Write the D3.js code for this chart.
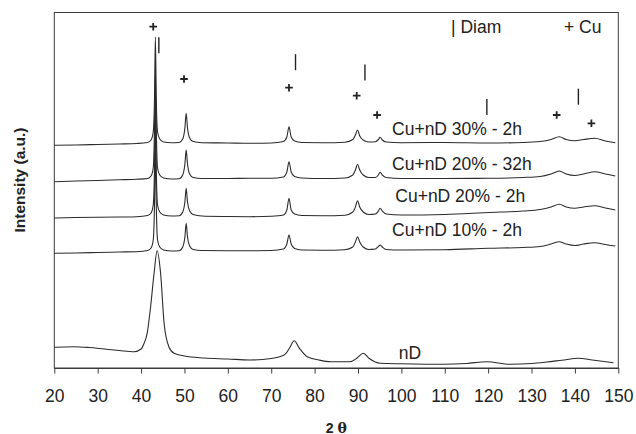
<!DOCTYPE html>
<html>
<head>
<meta charset="utf-8">
<script src="https://cdn.jsdelivr.net/npm/d3@7"></script>
<style>
  body { margin: 0; background: #fff; }
  svg { display: block; font-family: "Liberation Sans", Arial, sans-serif; }
</style>
</head>
<body>
<svg id="xrd" width="636" height="434"></svg>
<script>
// diffraction patterns, [2 theta, intensity a.u.]
var cu30 = [[20,222.7],[25,223],[30,223.5],[35,224],[39,224.5],[41.5,225.5],[42.3,228],[42.8,236],[43.1,270],[43.3,331],[43.5,270],[43.8,236],[44.3,229],[45.2,226],[47,225.2],[48.8,225.5],[49.6,229],[50.1,240],[50.4,254.7],[50.7,240],[51.2,230],[52,226.5],[54,225.3],[60,225],[65,224.7],[70,225],[72.8,226.5],[73.6,231],[74.1,241.3],[74.6,231],[75.4,227],[77,225.5],[82,225.3],[87,225.8],[88.8,228.5],[89.4,233],[89.9,238],[90.4,232],[91.2,228],[92.5,226],[94,226.3],[94.7,228.5],[95.1,230.7],[95.6,228],[96.5,226],[100,225.3],[110,225.5],[120,225],[128,225.5],[132,226.5],[134.5,228.5],[136.4,231.3],[138,228.5],[140,227.3],[142,228.5],[144.6,229.7],[147,227],[149.3,225.3]];
var cu20_32h = [[20,186.3],[25,187],[30,187.5],[35,188.2],[39,188.7],[41.5,189.5],[42.3,192],[42.8,200],[43.1,240],[43.3,298],[43.5,240],[43.8,200],[44.3,193],[45.2,190],[47,189],[48.8,189.3],[49.6,193],[50.1,204],[50.4,218],[50.7,204],[51.2,194],[52,190.5],[54,189.5],[60,189.5],[65,189.7],[70,189.7],[72.8,191],[73.6,196],[74.1,206.3],[74.6,196],[75.4,191.5],[77,190],[82,189.5],[87,190],[88.8,193],[89.4,198],[89.9,203.7],[90.4,198],[91.2,193],[92.5,190.5],[94,190.5],[94.7,193],[95.1,195.7],[95.6,193],[96.5,190.5],[100,189.5],[110,189.5],[120,189.7],[128,190.5],[132,191.5],[134.5,194],[136.4,197],[138,194],[140,192.5],[142,194],[144.6,196.3],[147,194],[149.3,192]];
var cu20_2h = [[20,150],[25,150.5],[30,150.8],[35,151],[39,151.3],[41.5,152.5],[42.3,155],[42.8,163],[43.1,200],[43.3,263],[43.5,200],[43.8,163],[44.3,156],[45.2,153],[47,152],[48.8,152.3],[49.6,156],[50.1,166],[50.4,179.7],[50.7,166],[51.2,157],[52,153.5],[54,152],[60,151.5],[65,151.3],[70,151.8],[72.8,153],[73.6,158],[74.1,169.7],[74.6,158],[75.4,154],[77,152.5],[82,152.3],[87,152.8],[88.8,156],[89.4,161],[89.9,167.3],[90.4,161],[91.2,156],[92.5,153.5],[94,154],[94.7,157],[95.1,159.7],[95.6,157],[96.5,154],[100,153],[110,153.5],[120,155.5],[128,157],[132,158.5],[134.5,161],[136.4,163.7],[138,161],[140,159.7],[142,161],[144.6,162.3],[147,160],[149.3,158]];
var cu10 = [[20,114.7],[25,115],[30,115.5],[35,116],[39,116.3],[41.5,117.5],[42.3,120],[42.8,128],[43.1,165],[43.3,228],[43.5,165],[43.8,128],[44.3,121],[45.2,118],[47,117],[48.8,117.3],[49.6,121],[50.1,131],[50.4,144.7],[50.7,131],[51.2,122],[52,118.5],[54,117.5],[60,117.3],[65,117.3],[70,117.5],[72.8,119],[73.6,124],[74.1,133],[74.6,124],[75.4,119.5],[77,118],[82,117.8],[87,118.3],[88.8,121],[89.4,126],[89.9,131.3],[90.4,126],[91.2,121],[92.5,118.5],[94,119],[94.7,121.5],[95.1,123],[95.6,121],[96.5,118.5],[100,118],[110,118.3],[120,119.7],[128,120.5],[132,121.5],[134.5,124],[136.4,126.3],[138,124],[140,122.5],[142,124],[144.6,125.3],[147,123.5],[149.3,122]];
var nD = [[20,20.7],[24.5,21.3],[28,20.5],[31.5,19],[35,17.5],[38.4,16.3],[40,19],[40.7,24.7],[41.4,34.7],[42.2,61.3],[43,94.7],[43.7,117.3],[44.5,94.7],[45.3,45],[46.4,21.3],[47.6,14.7],[50,12],[54.5,10],[60,9],[65,8],[70,9.5],[73,13],[74.2,19.7],[75.3,27.3],[76.5,19.7],[78.3,11.3],[81,8],[83.7,6.3],[88.2,6.3],[89.8,10],[91.2,14.7],[92.6,9.5],[95.1,4.7],[100,4.2],[109.6,3.7],[115,4.5],[119.7,6.3],[125,3.7],[130,4.5],[133.5,6],[137,7.8],[140.8,9.7],[144,8],[148.9,5.3]];

var seriesNames = ["Cu+nD 30% - 2h", "Cu+nD 20% - 32h", "Cu+nD 20% - 2h", "Cu+nD 10% - 2h", "nD"];
var seriesData = [cu30, cu20_32h, cu20_2h, cu10, nD];
// where each name is written, [2 theta, intensity]
var labelAt = [[97.85,233],[97.85,198],[98.6,166],[97.85,132],[99.4,9]];

// reflection markers, [2 theta, intensity]
var cuPeaks = [[42.8,341.3],[49.9,289],[74.1,280.3],[89.7,272.3],[94.4,253],[135.8,253],[143.8,244.7]];
var diamPeaks = [[44.1,322.7],[75.6,305.8],[91.6,295.5],[119.7,261],[140.8,271.3]];

var xTicks = [20,30,40,50,60,70,80,90,100,110,120,130,140,150];

function drawXrd() {
  var svg = d3.select("svg#xrd");
  var left = 54.3, right = 618.3, plotTop = 12.5, bottom = 368;

  var x = d3.scaleLinear().domain([20, 150]).range([left, right]);
  var y = d3.scaleLinear().domain([0, 355.5]).range([bottom, plotTop]);
  var ink = '#2b2b2b';

  // frame
  svg.append("rect")
    .attr("x", left).attr("y", plotTop)
    .attr("width", right - left).attr("height", bottom - plotTop)
    .attr("fill", "none").attr("stroke", "#3a3a3a").attr("stroke-width", 1);

  var xAxis = svg.append("g")
    .attr("transform", "translate(0," + bottom + ")")
    .call(d3.axisBottom(x).tickValues(xTicks).tickSizeInner(5.5).tickSizeOuter(0).tickPadding(16.5));
  xAxis.select(".domain").attr("stroke", "#3a3a3a");
  xAxis.selectAll(".tick line").attr("stroke", "#3a3a3a");
  xAxis.selectAll(".tick text")
    .attr("font-family", "Liberation Sans, Arial, sans-serif")
    .attr("font-size", 17.5).attr("fill", "#222");

  // spectra
  var line = d3.line()
    .x(function(d) { return x(d[0]); })
    .y(function(d) { return y(d[1]); })
    .curve(d3.curveMonotoneX);

  for (var i = 0; i < seriesData.length; i++) {
    svg.append("path")
      .attr("d", line(seriesData[i]))
      .attr("fill", "none")
      .attr("stroke", ink)
      .attr("stroke-width", 1.1);
  }

  for (var i = 0; i < seriesNames.length; i++) {
    svg.append("text")
      .attr("x", x(labelAt[i][0]))
      .attr("y", y(labelAt[i][1]))
      .attr("font-size", 17.5)
      .attr("fill", "#222")
      .text(seriesNames[i]);
  }

  // Cu markers (+)
  var plus = 3.8;
  cuPeaks.forEach(function(d) {
    var cx = x(d[0]), cy = y(d[1]);
    svg.append("path")
      .attr("d", "M" + (cx - plus) + "," + cy + "H" + (cx + plus) + "M" + cx + "," + (cy - plus) + "V" + (cy + plus))
      .attr("stroke", "#222").attr("stroke-width", 1.8).attr("fill", "none");
  });

  // diamond markers (|)
  diamPeaks.forEach(function(d) {
    var cx = x(d[0]), cy = y(d[1]);
    svg.append("line")
      .attr("x1", cx).attr("x2", cx)
      .attr("y1", cy - 8).attr("y2", cy + 8)
      .attr("stroke", "#222").attr("stroke-width", 1.4);
  });

  // legend
  svg.append("text").attr("x", 451).attr("y", 33.3)
    .attr("font-size", 17.5).attr("fill", "#222").text("| Diam");
  svg.append("text").attr("x", 564).attr("y", 33.3)
    .attr("font-size", 17.5).attr("fill", "#222").text("+ Cu");

  // axis titles
  var xt = svg.append("text")
    .attr("x", (left + right) / 2).attr("y", 432.5)
    .attr("text-anchor", "middle")
    .attr("font-weight", "bold").attr("font-size", 14).attr("fill", "#222");
  xt.append("tspan").text("2 ");
  xt.append("tspan").attr("font-family", "DejaVu Serif, serif").text("θ");

  svg.append("text")
    .attr("transform", "translate(24.5,180) rotate(-90)")
    .attr("text-anchor", "middle")
    .attr("font-weight", "bold").attr("font-size", 15.5).attr("fill", "#222")
    .text("Intensity (a.u.)");
}

drawXrd();
</script>
</body>
</html>
